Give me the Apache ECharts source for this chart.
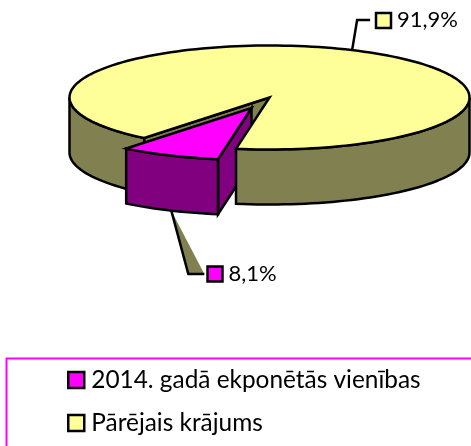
<!DOCTYPE html>
<html>
<head>
<meta charset="utf-8">
<title>Krājums</title>
<style>
  html, body { margin: 0; padding: 0; background: #fff; }
  #chart { width: 471px; height: 446px; }
</style>
<script src="https://cdn.jsdelivr.net/npm/echarts@6/dist/echarts.min.js"></script>
</head>
<body>
<div id="chart"></div>
<script>
// data
const categories = ['2014. gadā ekponētās vienības', 'Pārējais krājums'];
const shares = [8.1, 91.9];
const topColors = ['#FF00FF', '#FFFF99'];
const sideColors = ['#800080', '#808050'];

// pie layout (pixels): ECharts has no 3D pie, so it is projected here
const cx = 269.5, cy = 97.5, rx = 200, ry = 52, depth = 55;
const explode = [-18, 10.5];
const cutAngle = 128.8; // where the small slice ends, degrees, clockwise on screen
const FONT = 'Lato';
const LABEL_SIZE = 22;
const LEGEND_SIZE = 24.4;

const sliceSweep = 360 * shares[0] / 100;
const sliceFrom = cutAngle - sliceSweep;
const lineStyle = { stroke: '#000', lineWidth: 2.5, lineJoin: 'miter' };

function rimPoint(deg, dx, dy) {
  const a = deg * Math.PI / 180;
  return [cx + dx + rx * Math.cos(a), cy + dy + ry * Math.sin(a)];
}

function arc(from, to, dx, dy) {
  const pts = [];
  const steps = Math.max(2, Math.ceil(Math.abs(to - from) / 2));
  for (let i = 0; i <= steps; i++) {
    pts.push(rimPoint(from + (to - from) * i / steps, dx, dy));
  }
  return pts;
}

function poly(points, fill) {
  return {
    type: 'polygon',
    shape: { points },
    style: Object.assign({ fill }, lineStyle)
  };
}

// outer wall of the pie between two angles
function wall(from, to, dx, dy, fill) {
  return poly(arc(from, to, dx, dy).concat(arc(to, from, dx, dy + depth)), fill);
}

// value label: leader line, colour box and text
function valueLabel(points, boxX, boxY, index) {
  return [
    { type: 'polyline', shape: { points }, style: { stroke: '#000', lineWidth: 2.5, fill: null } },
    { type: 'rect', shape: { x: boxX, y: boxY, width: 15, height: 15 }, style: Object.assign({ fill: topColors[index] }, lineStyle) },
    {
      type: 'text',
      x: boxX + 21,
      y: boxY + 7,
      style: {
        text: shares[index].toFixed(1).replace('.', ',') + '%',
        fill: '#000',
        font: LABEL_SIZE + 'px ' + FONT,
        verticalAlign: 'middle'
      }
    }
  ];
}

// back of the big slice: cut wall visible in the notch and the left outer wall
function renderBack() {
  const cutEnd = rimPoint(cutAngle, 0, 0);
  return {
    type: 'group',
    children: [
      poly([[cx, cy], cutEnd, [cutEnd[0], cutEnd[1] + depth], [cx, cy + depth]], sideColors[1]),
      wall(cutAngle, 180, 0, 0, sideColors[1])
    ]
  };
}

// the pulled out small slice
function renderSlice() {
  const dx = explode[0], dy = explode[1];
  const apex = [cx + dx, cy + dy];
  const near = rimPoint(sliceFrom, dx, dy);
  const tail = rimPoint(cutAngle - sliceSweep * 0.52, dx, dy + depth);
  return {
    type: 'group',
    children: [
      {
        type: 'polygon',
        shape: { points: [tail, [tail[0] + 17, 274], [tail[0] + 33, 274]] },
        style: { fill: sideColors[1] }
      },
      poly([apex, near, [near[0], near[1] + depth], [apex[0], apex[1] + depth]], sideColors[0]),
      wall(sliceFrom, cutAngle, dx, dy, sideColors[0]),
      poly([apex].concat(arc(sliceFrom, cutAngle, dx, dy)), topColors[0])
    ].concat(valueLabel([tail, [tail[0] + 17, 274], [tail[0] + 33, 274]], 207.5, 266.5, 0))
  };
}

// front of the big slice: right outer wall and the top face
function renderFront() {
  const edge = rimPoint(-65.6, 0, 0);
  return {
    type: 'group',
    children: [
      wall(0, sliceFrom, 0, 0, sideColors[1]),
      poly([[cx, cy]].concat(arc(cutAngle, sliceFrom + 360, 0, 0)), topColors[1])
    ].concat(valueLabel([edge, [edge[0] + 5, 20], [edge[0] + 18, 20]], 376, 13, 1))
  };
}

function pieSeries(name, z, renderItem) {
  return {
    type: 'custom',
    name,
    z,
    coordinateSystem: 'none',
    silent: true,
    animation: false,
    itemStyle: { color: name === categories[0] ? topColors[0] : topColors[1] },
    data: [shares[categories.indexOf(name)]],
    renderItem
  };
}

const chart = echarts.init(document.getElementById('chart'), null, { renderer: 'canvas' });

chart.setOption({
  backgroundColor: '#fff',
  animation: false,
  textStyle: { fontFamily: FONT },
  graphic: [{
    type: 'rect',
    z: 0,
    shape: { x: 6.5, y: 358.5, width: 500, height: 120 },
    style: { fill: null, stroke: '#FF00FF', lineWidth: 2 },
    silent: true
  }],
  legend: {
    left: 67,
    top: 368,
    orient: 'vertical',
    selectedMode: false,
    itemWidth: 16,
    itemHeight: 16,
    itemGap: 19,
    padding: 0,
    icon: 'rect',
    textStyle: { fontFamily: FONT, fontSize: LEGEND_SIZE, color: '#000', padding: [0, 0, 0, 2] },
    data: categories.map((name, i) => ({
      name,
      itemStyle: { color: topColors[i], borderColor: '#000', borderWidth: 2.5 }
    }))
  },
  series: [
    pieSeries(categories[1], 1, renderBack),
    pieSeries(categories[0], 2, renderSlice),
    pieSeries(categories[1], 3, renderFront)
  ]
});
</script>
</body>
</html>
